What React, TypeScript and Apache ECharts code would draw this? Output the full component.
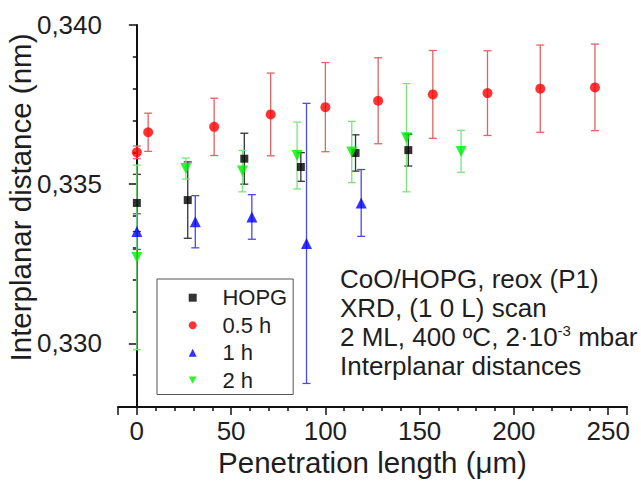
import React, { useEffect, useRef } from "react";
import * as echarts from "echarts";

// Penetration length (µm) and interplanar distance (nm) with error bars
const hopgX = [0, 27, 57, 87, 116, 144];
const hopgY = [0.33441, 0.3345, 0.3358, 0.33554, 0.33598, 0.33607];
const hopgErr = [0.0009, 0.0012, 0.0008, 0.00045, 0.00057, 0.0005];

const h05X = [0, 6, 41, 71, 100, 128, 157, 186, 214, 243];
const h05Y = [0.336, 0.33663, 0.3368, 0.33719, 0.33742, 0.33762, 0.33782, 0.33786, 0.338, 0.33804];
const h05Err = [0.0002, 0.0006, 0.0009, 0.0013, 0.0014, 0.00135, 0.00138, 0.00133, 0.00137, 0.00136];

const h1X = [0, 31, 61, 90, 119];
const h1Y = [0.33351, 0.33382, 0.33397, 0.33314, 0.33441];
const h1Err = [0.00056, 0.00082, 0.0007, 0.0044, 0.00105];

const h2X = [0, 26, 56, 85, 114, 143, 172];
const h2Y = [0.3327, 0.33549, 0.33541, 0.3359, 0.33601, 0.33646, 0.33603];
const h2Err = [0.0029, 0.00033, 0.00065, 0.00105, 0.00096, 0.0017, 0.00066];

const seriesNames = ["HOPG", "0.5 h", "1 h", "2 h"];
const annotationLines = [
  "CoO/HOPG, reox (P1)",
  "XRD, (1 0 L) scan",
  "{a|2 ML, 400 ºC, 2·10}{s|-3}{a| mbar}",
  "Interplanar distances",
];

const FONT = "'Liberation Sans', Arial, Helvetica, sans-serif";
const TEXT = "#1e1e1e";
const DOWN_TRIANGLE = "path://M0,0L10,0L5,9Z";

function pts(xs: number[], ys: number[]) {
  return xs.map((x, i) => [x, ys[i]]);
}
function errPts(xs: number[], ys: number[], es: number[]) {
  return xs.map((x, i) => [x, ys[i], es[i]]);
}

function errSeries(name: string, data: number[][], color: string) {
  return {
    type: "custom",
    name,
    data,
    z: 1,
    encode: { x: 0, y: 1 },
    renderItem: (params: any, api: any) => {
      const x = api.value(0);
      const y = api.value(1);
      const e = api.value(2);
      const top = api.coord([x, y + e]);
      const bot = api.coord([x, y - e]);
      const hw = 4;
      const st = { stroke: color, lineWidth: 1.3 };
      return {
        type: "group",
        children: [
          { type: "line", shape: { x1: top[0], y1: top[1], x2: bot[0], y2: bot[1] }, style: st },
          { type: "line", shape: { x1: top[0] - hw, y1: top[1], x2: top[0] + hw, y2: top[1] }, style: st },
          { type: "line", shape: { x1: bot[0] - hw, y1: bot[1], x2: bot[0] + hw, y2: bot[1] }, style: st },
        ],
      };
    },
  };
}

export default function App() {
  const ref = useRef<HTMLDivElement>(null);
  useEffect(() => {
    document.body.style.margin = "0";
    if (!ref.current) return;
    const chart = echarts.init(ref.current, null, { renderer: "svg" });
    const option: any = {
      animation: false,
      backgroundColor: "#ffffff",
      textStyle: { fontFamily: FONT },
      grid: {
        left: 118,
        right: 14,
        top: 25,
        bottom: 76,
        containLabel: false,
        outerBoundsMode: "none",
      },
      xAxis: {
        type: "value",
        min: -10,
        max: 260,
        minInterval: 50,
        maxInterval: 50,
        name: "Penetration length (μm)",
        nameLocation: "middle",
        nameGap: 40,
        nameMoveOverlap: false,
        nameTextStyle: { fontSize: 29.5, color: TEXT, fontFamily: FONT },
        axisLine: { show: true, lineStyle: { color: "#111", width: 2 } },
        axisTick: { show: true, inside: false, length: 8, lineStyle: { color: "#111", width: 1.5 } },
        minorTick: { show: true, splitNumber: 5, length: 4, lineStyle: { color: "#111", width: 1.5 } },
        axisLabel: {
          fontSize: 26,
          color: TEXT,
          margin: 11,
          fontFamily: FONT,
          showMinLabel: false,
          showMaxLabel: false,
        },
        splitLine: { show: false },
      },
      yAxis: {
        type: "value",
        min: 0.328,
        max: 0.34,
        minInterval: 0.005,
        maxInterval: 0.005,
        name: "Interplanar distance (nm)",
        nameLocation: "middle",
        nameGap: 83,
        nameRotate: 90,
        nameMoveOverlap: false,
        nameTextStyle: { fontSize: 29.5, color: TEXT, fontFamily: FONT, padding: [0, 0, 0, 37] },
        axisLine: { show: true, lineStyle: { color: "#111", width: 2 } },
        axisTick: { show: true, inside: false, length: 8, lineStyle: { color: "#111", width: 1.5 } },
        minorTick: { show: true, splitNumber: 5, length: 4, lineStyle: { color: "#111", width: 1.5 } },
        axisLabel: {
          fontSize: 26,
          color: TEXT,
          margin: 16,
          fontFamily: FONT,
          showMinLabel: false,
          formatter: (v: number) => v.toFixed(3).replace(".", ","),
        },
        splitLine: { show: false },
      },
      legend: {
        data: seriesNames,
        orient: "vertical",
        left: 157,
        top: 279,
        padding: [7.7, 6, 3.3, 31.7],
        itemWidth: 8,
        itemHeight: 8,
        itemGap: 5.5,
        borderColor: "#555",
        borderWidth: 1,
        textStyle: {
          fontSize: 22,
          color: TEXT,
          fontFamily: FONT,
          lineHeight: 22,
          padding: [0, 0, 0, 20.7],
        },
      },
      graphic: annotationLines.map((t, i) => ({
        type: "text",
        x: 340,
        y: 278.5 + i * 29,
        style: {
          text: t,
          fill: TEXT,
          font: `26px ${FONT}`,
          verticalAlign: "middle",
          rich: {
            a: { fontSize: 26, fontFamily: FONT, fill: TEXT },
            s: { fontSize: 15, fontFamily: FONT, fill: TEXT, padding: [0, 0, 12, 0] },
          },
        },
      })),
      series: [
        errSeries("HOPG err", errPts(hopgX, hopgY, hopgErr), "#333333"),
        errSeries("0.5 h err", errPts(h05X, h05Y, h05Err), "#e06464"),
        errSeries("1 h err", errPts(h1X, h1Y, h1Err), "#4a4ae8"),
        errSeries("2 h err", errPts(h2X, h2Y, h2Err), "#7ae67a"),
        {
          type: "scatter",
          name: "HOPG",
          data: pts(hopgX, hopgY),
          symbol: "rect",
          symbolSize: 8,
          itemStyle: { color: "#000000" },
          z: 3,
        },
        {
          type: "scatter",
          name: "0.5 h",
          data: pts(h05X, h05Y),
          symbol: "circle",
          symbolSize: 10,
          itemStyle: { color: "#ff0000" },
          z: 3,
        },
        {
          type: "scatter",
          name: "1 h",
          data: pts(h1X, h1Y),
          symbol: "triangle",
          symbolSize: 11,
          itemStyle: { color: "#0000ff" },
          z: 3,
        },
        {
          type: "scatter",
          name: "2 h",
          data: pts(h2X, h2Y),
          symbol: DOWN_TRIANGLE,
          symbolSize: 11,
          itemStyle: { color: "#00ee00" },
          z: 3,
        },
      ],
    };
    chart.setOption(option);
    return () => chart.dispose();
  }, []);
  return <div ref={ref} style={{ width: 641, height: 483 }} />;
}
